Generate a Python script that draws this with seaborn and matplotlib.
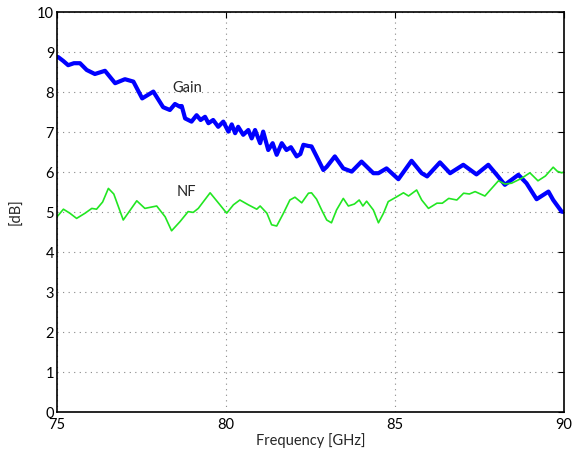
import matplotlib
matplotlib.use("Agg")
import matplotlib.pyplot as plt
import seaborn as sns
import pandas as pd

gain_freq = [75.0, 75.04, 75.18, 75.33, 75.5, 75.68, 75.88, 76.12, 76.42, 76.72, 77.01, 77.26,
             77.52, 77.85, 78.14, 78.34, 78.49, 78.64, 78.69, 78.79, 78.98, 79.13, 79.25, 79.38,
             79.48, 79.62, 79.77, 79.92, 80.07, 80.17, 80.27, 80.36, 80.51, 80.66, 80.76, 80.86,
             81.01, 81.10, 81.25, 81.38, 81.50, 81.65, 81.79, 81.92, 82.09, 82.2, 82.29, 82.44,
             82.53, 82.68, 82.88, 82.98, 83.22, 83.47, 83.72, 84.01, 84.36, 84.51, 84.75, 85.10,
             85.49, 85.79, 85.95, 86.33, 86.63, 87.02, 87.41, 87.76, 88.01, 88.25, 88.65, 88.89,
             89.19, 89.54, 89.68, 89.93, 90.0]
gain_db = [8.88, 8.87, 8.78, 8.67, 8.72, 8.72, 8.55, 8.45, 8.53, 8.22, 8.32, 8.26,
           7.84, 8.01, 7.62, 7.55, 7.70, 7.63, 7.65, 7.34, 7.26, 7.42, 7.30, 7.38,
           7.22, 7.30, 7.13, 7.26, 7.01, 7.19, 6.97, 7.13, 6.93, 7.05, 6.84, 7.05,
           6.72, 7.01, 6.55, 6.72, 6.43, 6.72, 6.55, 6.62, 6.39, 6.45, 6.68, 6.65,
           6.64, 6.39, 6.05, 6.13, 6.39, 6.09, 6.01, 6.26, 5.97, 5.97, 6.09, 5.82,
           6.28, 5.97, 5.89, 6.24, 5.97, 6.18, 5.94, 6.18, 5.93, 5.68, 5.93, 5.72,
           5.32, 5.51, 5.30, 5.01, 5.0]

nf_freq = [75.0, 75.19, 75.38, 75.58, 75.83, 76.03, 76.17, 76.35, 76.52, 76.68, 76.96, 77.36,
           77.60, 77.95, 78.20, 78.39, 78.64, 78.88, 79.03, 79.18, 79.53, 79.82, 80.02, 80.22,
           80.41, 80.66, 80.91, 81.01, 81.21, 81.35, 81.50, 81.70, 81.89, 82.04, 82.24, 82.44,
           82.53, 82.68, 82.83, 82.98, 83.12, 83.27, 83.47, 83.62, 83.8, 83.94, 84.05, 84.16,
           84.36, 84.51, 84.66, 84.80, 85.05, 85.25, 85.4, 85.64, 85.79, 85.99, 86.24, 86.4,
           86.59, 86.83, 87.03, 87.2, 87.37, 87.66, 88.06, 88.25, 88.45, 88.74, 88.99, 89.23,
           89.45, 89.68, 89.8, 89.93, 90.0]
nf_db = [4.88, 5.07, 4.97, 4.84, 4.97, 5.09, 5.07, 5.25, 5.59, 5.45, 4.80, 5.28,
         5.09, 5.15, 4.88, 4.53, 4.76, 5.01, 4.99, 5.09, 5.48, 5.18, 4.97, 5.18,
         5.30, 5.18, 5.07, 5.15, 4.97, 4.68, 4.65, 4.97, 5.30, 5.37, 5.23, 5.47,
         5.48, 5.32, 5.05, 4.80, 4.73, 5.05, 5.34, 5.15, 5.20, 5.30, 5.15, 5.27,
         5.05, 4.73, 4.97, 5.26, 5.38, 5.48, 5.40, 5.55, 5.30, 5.09, 5.22, 5.22,
         5.34, 5.30, 5.47, 5.45, 5.51, 5.40, 5.78, 5.70, 5.72, 5.84, 5.98, 5.78,
         5.90, 6.12, 6.02, 5.98, 6.0]

x_ticks = [75, 80, 85, 90]
y_ticks = list(range(0, 11))

sns.set_style("white")
plt.rcParams['font.family'] = ['Lato', 'DejaVu Sans']

fig = plt.figure(figsize=(5.81, 4.53), dpi=100)
ax = fig.add_axes([57/581, 41/453, 507/581, 400/453])

gain_df = pd.DataFrame({"f": gain_freq, "db": gain_db})
nf_df = pd.DataFrame({"f": nf_freq, "db": nf_db})
sns.lineplot(data=gain_df, x="f", y="db", ax=ax, color="#0000ff", linewidth=3.0, sort=False,
             solid_joinstyle="round", solid_capstyle="round")
sns.lineplot(data=nf_df, x="f", y="db", ax=ax, color="#22e622", linewidth=1.2, sort=False,
             solid_joinstyle="round")

ax.set_xlim(75, 90)
ax.set_ylim(0, 10)
ax.set_xticks(x_ticks)
ax.set_yticks(y_ticks)
ax.grid(True, linestyle=(0, (1, 4)), color="#888888", linewidth=0.8)
ax.tick_params(direction="in", top=True, right=True, length=4, width=0.8, labelsize=10.5, pad=2, colors="black")
ax.tick_params(axis="x", pad=4)
for s in ax.spines.values():
    s.set_color("black")
    s.set_linewidth(1.2)
ax.set_xlabel("Frequency [GHz]", fontsize=10.5, labelpad=1)
ax.set_ylabel("[dB]", fontsize=10.5, labelpad=10)
ax.text(78.4, 8.1, "Gain", fontsize=10.5, va="center", ha="left")
ax.text(78.55, 5.5, "NF", fontsize=10.5, va="center", ha="left")

fig.savefig("out.png", dpi=100)
